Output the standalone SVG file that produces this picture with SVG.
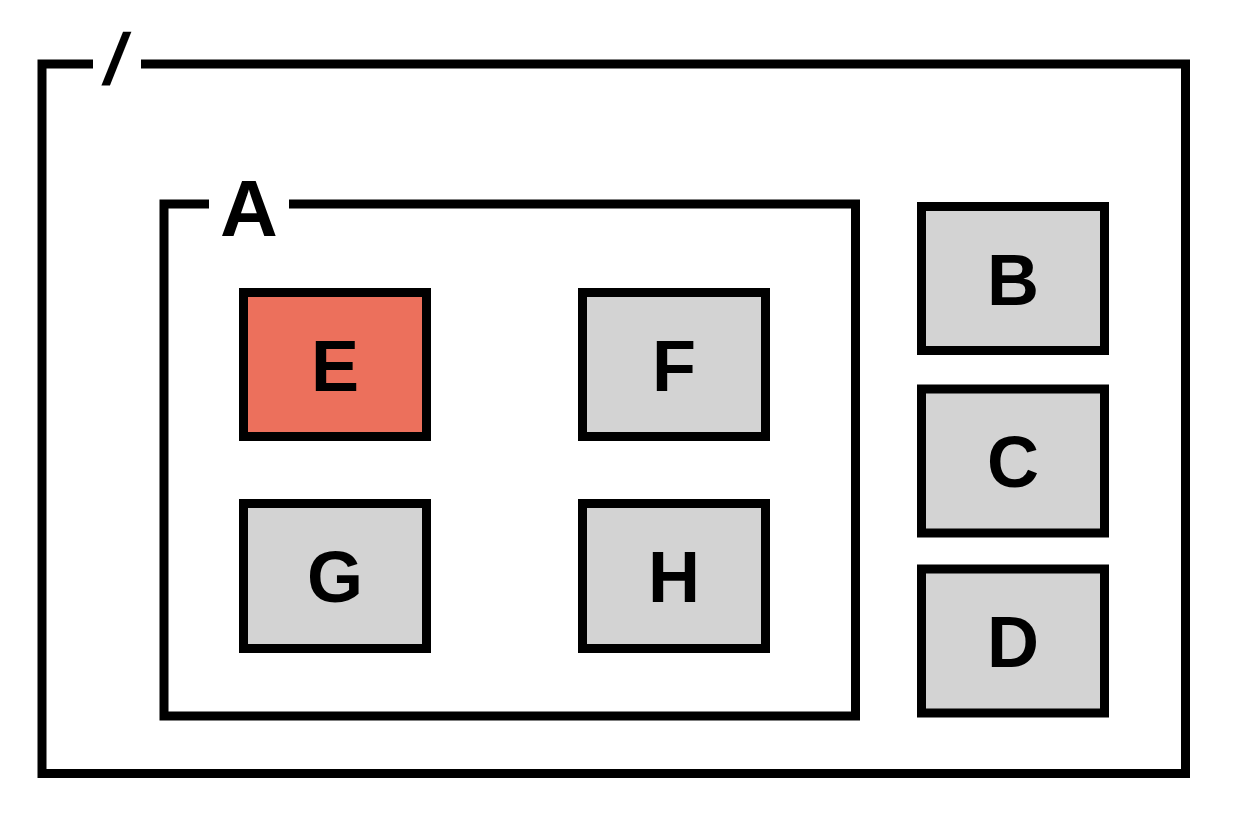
<svg xmlns="http://www.w3.org/2000/svg" width="1242" height="840" viewBox="0 0 1242 840">
<style>
.frame{fill:none;stroke:#000;stroke-width:9}
.box{fill:#d3d3d3;stroke:#000;stroke-width:9}
.hot{fill:#ec705c}
.lbl{font-family:"Liberation Sans",Arial,sans-serif;font-weight:bold;font-size:72px;fill:#000;text-anchor:middle}
</style>
<rect width="1242" height="840" fill="#fff"/>
<g id="root">
<path class="frame" d="M93,64 H42 V773.5 H1185.5 V64 H141"/>
<text class="lbl" transform="translate(111,84) skewX(-12)" x="0" y="0">/</text>
</g>
<g id="A">
<path class="frame" d="M209,204 H164 V716 H855.5 V204 H289"/>
<text class="lbl" x="249" y="236" style="font-size:80px">A</text>
</g>
<g id="E"><rect class="box hot" x="243.5" y="292.5" width="183" height="144"/><text class="lbl" x="335" y="391">E</text></g>
<g id="F"><rect class="box" x="582.5" y="292.5" width="183" height="144"/><text class="lbl" x="674" y="391">F</text></g>
<g id="G"><rect class="box" x="243.5" y="503.5" width="183" height="145"/><text class="lbl" x="335" y="602">G</text></g>
<g id="H"><rect class="box" x="582.5" y="503.5" width="183" height="145"/><text class="lbl" x="674" y="602">H</text></g>
<g id="B"><rect class="box" x="921.5" y="206.5" width="183" height="144"/><text class="lbl" x="1013" y="305">B</text></g>
<g id="C"><rect class="box" x="921.5" y="389" width="183" height="144"/><text class="lbl" x="1013" y="487">C</text></g>
<g id="D"><rect class="box" x="921.5" y="569" width="183" height="144"/><text class="lbl" x="1013" y="667">D</text></g>
<g id="connectors"></g>
</svg>
